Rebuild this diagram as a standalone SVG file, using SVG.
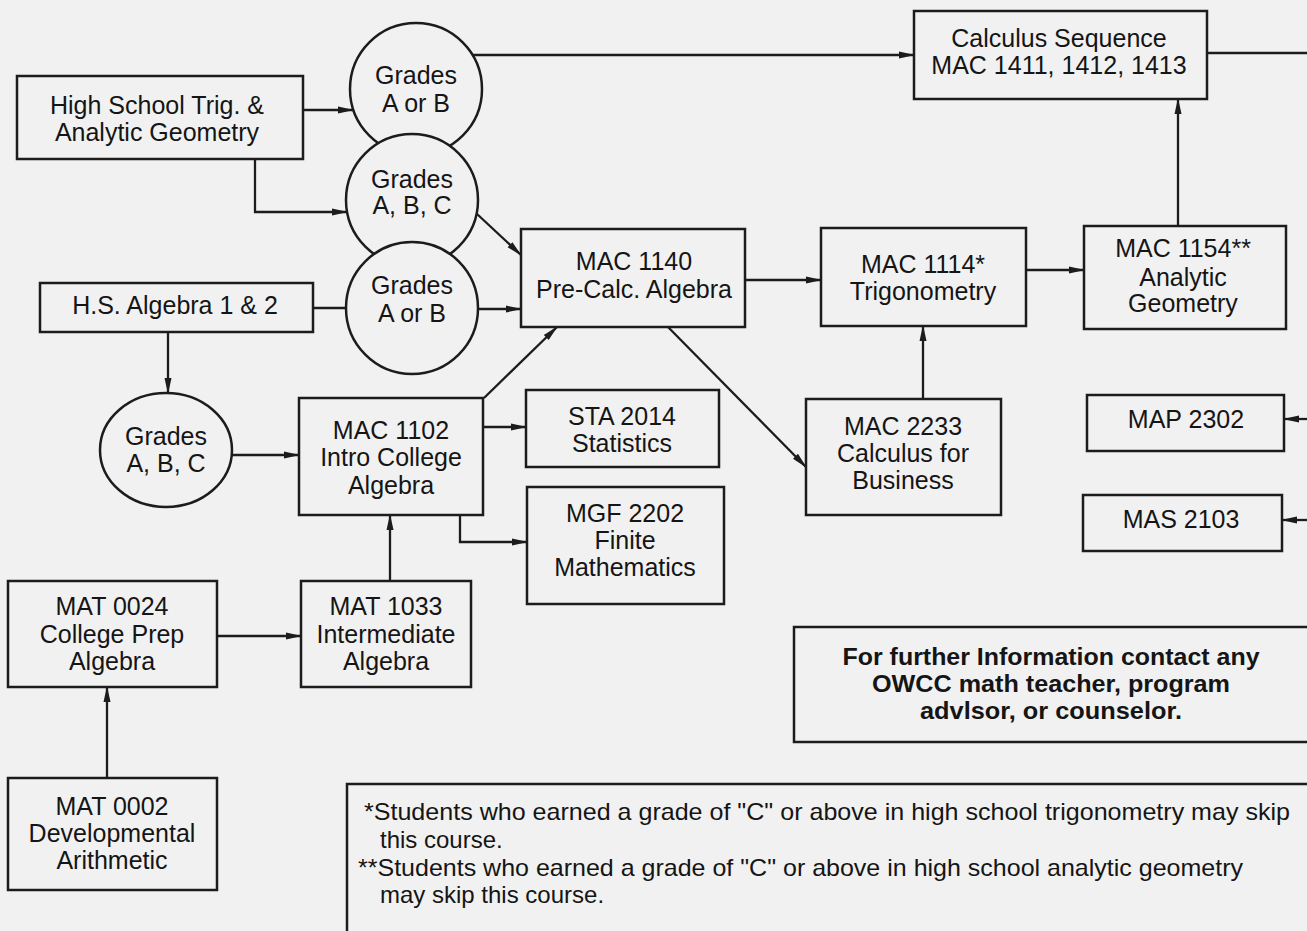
<svg xmlns="http://www.w3.org/2000/svg" width="1307" height="931" viewBox="0 0 1307 931">
<defs>
<style>
.bg{fill:#f1f1f1}
.box{fill:none;stroke:#1c1c1c;stroke-width:2.5}
.circ{fill:#f1f1f1;stroke:#1c1c1c;stroke-width:2.5}
.t{font-family:"Liberation Sans",Arial,sans-serif;font-size:25px;fill:#151515;text-anchor:middle}
.n{font-family:"Liberation Sans",Arial,sans-serif;font-size:24px;fill:#151515}
.b{font-family:"Liberation Sans",Arial,sans-serif;font-size:24px;font-weight:bold;fill:#151515;text-anchor:middle}
.c{fill:none;stroke:#1c1c1c;stroke-width:2.3}
</style>
<marker id="ah" markerWidth="16" markerHeight="10" refX="15" refY="5" orient="auto" markerUnits="userSpaceOnUse">
<path d="M0,1.5 L16,5 L0,8.5 Z" fill="#1c1c1c"/>
</marker>
</defs>
<rect class="bg" x="0" y="0" width="1307" height="931"/>

<g id="connectors">
<path class="c" d="M303,110 H353" marker-end="url(#ah)"/>
<path class="c" d="M255,159 V212 H347" marker-end="url(#ah)"/>
<path class="c" d="M473,55 H914" marker-end="url(#ah)"/>
<path class="c" d="M477,214 L521,255" marker-end="url(#ah)"/>
<path class="c" d="M313,308 H347"/>
<path class="c" d="M478,309 H521" marker-end="url(#ah)"/>
<path class="c" d="M745,280 H821" marker-end="url(#ah)"/>
<path class="c" d="M668,327 L806,467" marker-end="url(#ah)"/>
<path class="c" d="M1026,270 H1084" marker-end="url(#ah)"/>
<path class="c" d="M1178,226 V99" marker-end="url(#ah)"/>
<path class="c" d="M1207,53 H1307"/>
<path class="c" d="M923,399 V326" marker-end="url(#ah)"/>
<path class="c" d="M1307,419 H1284" marker-end="url(#ah)"/>
<path class="c" d="M1307,520 H1282" marker-end="url(#ah)"/>
<path class="c" d="M168,332 V393" marker-end="url(#ah)"/>
<path class="c" d="M232,455 H299" marker-end="url(#ah)"/>
<path class="c" d="M484,398 L557,327" marker-end="url(#ah)"/>
<path class="c" d="M483,427 H526" marker-end="url(#ah)"/>
<path class="c" d="M460,515 V542 H527" marker-end="url(#ah)"/>
<path class="c" d="M390,581 V515" marker-end="url(#ah)"/>
<path class="c" d="M217,636 H301" marker-end="url(#ah)"/>
<path class="c" d="M107,778 V687" marker-end="url(#ah)"/>
</g>

<g id="hs-trig">
<rect class="box" x="17" y="76" width="286" height="83"/>
<text class="t" x="157" y="114">High School Trig. &amp;</text>
<text class="t" x="157" y="141">Analytic Geometry</text>
</g>
<g id="grades-ab-1">
<circle class="circ" cx="416" cy="89" r="66"/>
<text class="t" x="416" y="84">Grades</text>
<text class="t" x="416" y="112">A or B</text>
</g>
<g id="grades-abc-1">
<circle class="circ" cx="412" cy="200" r="66"/>
<text class="t" x="412" y="188">Grades</text>
<text class="t" x="412" y="214">A, B, C</text>
</g>
<g id="grades-ab-2">
<circle class="circ" cx="412" cy="308" r="66"/>
<text class="t" x="412" y="294">Grades</text>
<text class="t" x="412" y="322">A or B</text>
</g>
<g id="hs-algebra">
<rect class="box" x="40" y="283" width="273" height="49"/>
<text class="t" x="175" y="314">H.S. Algebra 1 &amp; 2</text>
</g>
<g id="grades-abc-2">
<ellipse class="circ" cx="166" cy="450" rx="66" ry="57"/>
<text class="t" x="166" y="445">Grades</text>
<text class="t" x="166" y="472">A, B, C</text>
</g>
<g id="mac1140">
<rect class="box" x="521" y="229" width="224" height="98"/>
<text class="t" x="634" y="270">MAC 1140</text>
<text class="t" x="634" y="298">Pre-Calc. Algebra</text>
</g>
<g id="calc-seq">
<rect class="box" x="914" y="11" width="293" height="88"/>
<text class="t" x="1059" y="47">Calculus Sequence</text>
<text class="t" x="1059" y="74">MAC 1411, 1412, 1413</text>
</g>
<g id="mac1114">
<rect class="box" x="821" y="228" width="205" height="98"/>
<text class="t" x="923" y="273">MAC 1114*</text>
<text class="t" x="923" y="300">Trigonometry</text>
</g>
<g id="mac1154">
<rect class="box" x="1084" y="226" width="202" height="103"/>
<text class="t" x="1183" y="257">MAC 1154**</text>
<text class="t" x="1183" y="286">Analytic</text>
<text class="t" x="1183" y="312">Geometry</text>
</g>
<g id="mac2233">
<rect class="box" x="806" y="399" width="195" height="116"/>
<text class="t" x="903" y="435">MAC 2233</text>
<text class="t" x="903" y="462">Calculus for</text>
<text class="t" x="903" y="489">Business</text>
</g>
<g id="map2302">
<rect class="box" x="1087" y="395" width="197" height="56"/>
<text class="t" x="1186" y="428">MAP 2302</text>
</g>
<g id="mas2103">
<rect class="box" x="1083" y="495" width="199" height="56"/>
<text class="t" x="1181" y="528">MAS 2103</text>
</g>
<g id="mac1102">
<rect class="box" x="299" y="398" width="184" height="117"/>
<text class="t" x="391" y="439">MAC 1102</text>
<text class="t" x="391" y="466">Intro College</text>
<text class="t" x="391" y="494">Algebra</text>
</g>
<g id="sta2014">
<rect class="box" x="526" y="390" width="193" height="77"/>
<text class="t" x="622" y="425">STA 2014</text>
<text class="t" x="622" y="452">Statistics</text>
</g>
<g id="mgf2202">
<rect class="box" x="527" y="487" width="197" height="117"/>
<text class="t" x="625" y="522">MGF 2202</text>
<text class="t" x="625" y="549">Finite</text>
<text class="t" x="625" y="576">Mathematics</text>
</g>
<g id="mat1033">
<rect class="box" x="301" y="581" width="170" height="106"/>
<text class="t" x="386" y="615">MAT 1033</text>
<text class="t" x="386" y="643">Intermediate</text>
<text class="t" x="386" y="670">Algebra</text>
</g>
<g id="mat0024">
<rect class="box" x="8" y="581" width="209" height="106"/>
<text class="t" x="112" y="615">MAT 0024</text>
<text class="t" x="112" y="643">College Prep</text>
<text class="t" x="112" y="670">Algebra</text>
</g>
<g id="mat0002">
<rect class="box" x="8" y="778" width="209" height="112"/>
<text class="t" x="112" y="815">MAT 0002</text>
<text class="t" x="112" y="842">Developmental</text>
<text class="t" x="112" y="869">Arithmetic</text>
</g>
<g id="info">
<rect class="box" x="794" y="627" width="600" height="115"/>
<text class="b" x="1051" y="665" textLength="417" lengthAdjust="spacingAndGlyphs">For further Information contact any</text>
<text class="b" x="1051" y="692" textLength="358" lengthAdjust="spacingAndGlyphs">OWCC math teacher, program</text>
<text class="b" x="1051" y="719" textLength="262" lengthAdjust="spacingAndGlyphs">advlsor, or counselor.</text>
</g>
<g id="footnotes">
<rect class="box" x="347" y="784" width="1000" height="200"/>
<text class="n" x="364" y="820" textLength="926" lengthAdjust="spacingAndGlyphs">*Students who earned a grade of "C" or above in high school trigonometry may skip</text>
<text class="n" x="380" y="848">this course.</text>
<text class="n" x="358" y="876" textLength="885" lengthAdjust="spacingAndGlyphs">**Students who earned a grade of "C" or above in high school analytic geometry</text>
<text class="n" x="380" y="903">may skip this course.</text>
</g>
</svg>
